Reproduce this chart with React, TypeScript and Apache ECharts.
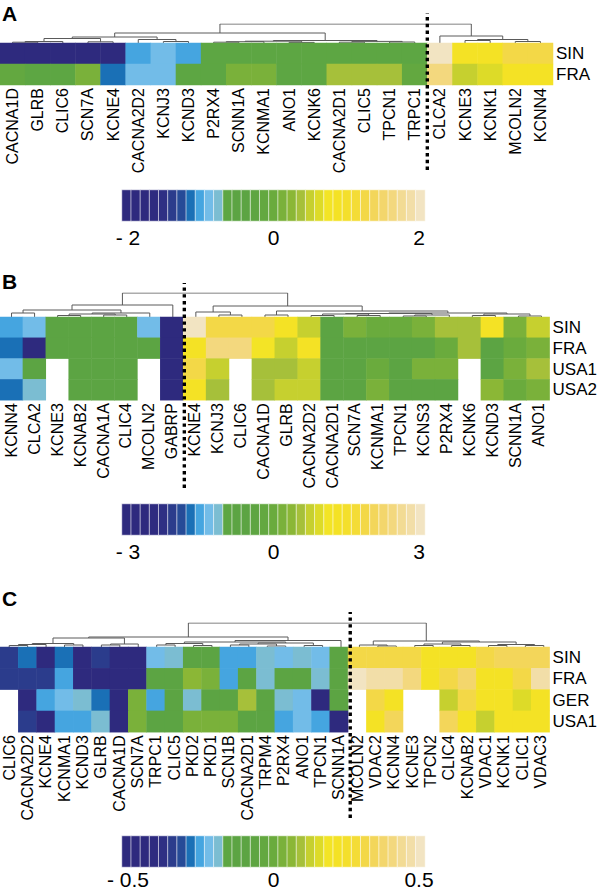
import React, { useEffect, useRef } from 'react';
import * as echarts from 'echarts';

// ---------- Panel A ----------
const genesA = ['CACNA1D', 'GLRB', 'CLIC6', 'SCN7A', 'KCNE4', 'CACNA2D2', 'KCNJ3', 'KCND3', 'P2RX4', 'SCNN1A', 'KCNMA1', 'ANO1', 'KCNK6', 'CACNA2D1', 'CLIC5', 'TPCN1', 'TRPC1', 'CLCA2', 'KCNE3', 'KCNK1', 'MCOLN2', 'KCNN4'];
const rowsA = ['SIN', 'FRA'];
const sinA = [-1.9, -1.9, -1.9, -1.9, -1.9, -0.97, -0.85, -0.97, -0.6, -0.6, -0.6, -0.6, -0.55, -0.6, -0.6, -0.6, -0.6, 1.95, 0.85, 0.85, 1.2, 1.2];
const fraA = [-0.1, -0.6, -0.6, 0.1, -1.1, -0.85, -0.85, -0.6, -0.6, 0.1, 0.1, -0.6, -0.6, 0.36, 0.36, 0.36, -0.1, 1.6, 0.48, 0.6, 0.85, 0.85];
const dendroA = [[0, 1, 0.8], [22, 2, 1.5], [3, 4, 1.2], [23, 24, 4.5], [6, 7, 1.5], [5, 26, 3.5], [25, 27, 6], [8, 9, 0.8], [29, 10, 1.3], [11, 12, 0.6], [30, 31, 1.8], [13, 14, 0.8], [15, 16, 1.0], [33, 34, 1.6], [32, 35, 2.5], [28, 36, 10], [18, 19, 2.5], [20, 21, 1.5], [38, 39, 3.5], [17, 40, 7], [37, 41, 19]];
const splitA = 17;
const maxA = 2;

// ---------- Panel B ----------
const genesB = ['KCNN4', 'CLCA2', 'KCNE3', 'KCNAB2', 'CACNA1A', 'CLIC4', 'MCOLN2', 'GABRP', 'KCNE4', 'KCNJ3', 'CLIC6', 'CACNA1D', 'GLRB', 'CACNA2D2', 'CACNA2D1', 'SCN7A', 'KCNMA1', 'TPCN1', 'KCNS3', 'P2RX4', 'KCNK6', 'KCND3', 'SCNN1A', 'ANO1'];
const rowsB = ['SIN', 'FRA', 'USA1', 'USA2'];
const sinB = [-1.45, -1.27, -0.73, -0.73, -0.55, -0.73, -1.27, -2.9, 2.9, 1.82, 1.82, 1.82, 1.27, 0.73, -0.73, 0.18, 0, 0, 0.18, 0.55, 0.55, 1.27, 0.18, 0.73];
const fraB = [-1.64, -2.9, -0.73, -0.73, -0.73, -0.73, -0.73, -2.9, 1.27, 2.36, 2.36, 1.09, 0.73, 1.27, -0.73, -0.73, -0.8, -0.8, -0.73, 0, 0.55, -0.73, 0, 0.18];
const usa1B = [-1.27, -0.73, null, -0.73, -0.73, -0.55, null, -2.9, 1.82, 0.73, null, 0.55, 0.55, 0.73, -0.73, -0.73, 0, -0.73, 0.18, 0.18, null, -0.73, 0.18, 0.55];
const usa2B = [-1.64, -1.09, null, -0.73, -0.73, -0.73, null, -2.9, 1.27, 0.55, null, 0.55, 0.73, 0.73, -0.73, -0.55, 0.18, -0.73, -0.73, -0.73, null, 0.36, 0, 0.18];
const dendroB = [[0, 1, 4], [2, 3, 1.5], [4, 5, 2], [25, 26, 3], [27, 6, 4], [24, 28, 7], [29, 7, 12], [9, 10, 2], [8, 31, 5], [11, 12, 2], [13, 14, 1.5], [15, 16, 1.5], [34, 35, 3], [17, 18, 1], [37, 19, 2], [36, 38, 3.5], [20, 21, 1.5], [22, 23, 1], [40, 41, 3], [39, 42, 4], [33, 43, 6], [32, 44, 11], [30, 45, 24]];
const splitB = 8;
const maxB = 3;

// ---------- Panel C ----------
const genesC = ['CLIC6', 'CACNA2D2', 'KCNE4', 'KCNMA1', 'KCND3', 'GLRB', 'CACNA1D', 'SCN7A', 'TRPC1', 'CLIC5', 'PKD2', 'PKD1', 'SCN1B', 'CACNA2D1', 'TRPM4', 'P2RX4', 'ANO1', 'TPCN1', 'SCNN1A', 'MCOLN2', 'VDAC2', 'KCNN4', 'KCNE3', 'TPCN2', 'CLIC4', 'KCNAB2', 'VDAC1', 'KCNK1', 'CLIC1', 'VDAC3'];
const rowsC = ['SIN', 'FRA', 'GER', 'USA1'];
const sinC = [-0.333, -0.273, -0.45, -0.273, -0.45, -0.333, -0.45, -0.45, -0.212, -0.182, -0.121, -0.121, -0.242, -0.242, -0.182, -0.212, -0.182, -0.212, -0.121, 0.303, 0.303, 0.303, 0.303, 0.212, 0.212, 0.212, 0.303, 0.333, 0.333, 0.333];
const fraC = [-0.333, -0.333, -0.333, -0.242, -0.45, -0.45, -0.45, -0.45, -0.121, -0.121, 0.061, 0.03, -0.242, -0.121, -0.182, -0.121, -0.121, -0.182, -0.121, 0.485, 0.455, 0.455, 0.394, 0.212, 0.303, 0.364, 0.212, 0.212, 0.303, 0.455];
const gerC = [null, -0.45, -0.242, -0.212, -0.182, -0.273, -0.45, 0.03, -0.242, -0.121, -0.182, -0.121, -0.121, 0.091, -0.121, -0.182, -0.212, -0.45, -0.121, null, 0.303, 0.212, null, null, 0.121, 0.303, 0.212, 0.212, 0.152, 0.212];
const usa1C = [null, -0.333, -0.45, -0.242, -0.242, -0.182, -0.45, 0.03, -0.121, -0.121, 0.03, 0.03, 0.03, -0.121, -0.121, -0.242, -0.212, -0.242, -0.45, null, 0.212, 0.333, null, null, 0.333, 0.212, 0.121, 0.212, 0.212, 0.212];
const dendroC = [[0, 1, 1.5], [30, 2, 2.5], [3, 4, 2], [31, 32, 3.5], [5, 6, 2], [34, 7, 3], [33, 35, 9], [8, 9, 2], [10, 11, 1.5], [37, 38, 3.5], [12, 13, 2], [14, 15, 1], [40, 41, 3], [16, 17, 1.5], [42, 43, 4], [39, 44, 5], [45, 18, 6.5], [36, 46, 10], [20, 21, 1], [19, 48, 2], [22, 23, 1.5], [24, 25, 1.5], [50, 51, 3], [26, 27, 1.5], [28, 29, 1.5], [53, 54, 2.5], [52, 55, 5], [49, 56, 6], [47, 57, 24]];
const splitC = 19;
const maxC = 0.5;

// colour key (33 bins, low -> high)
const palette = ['#2e2a7e', '#2e2a7e', '#2e2a7e', '#2e2b80', '#2e2f84', '#2b3c8c', '#264b97', '#1a70b6', '#45a5e0', '#72bce8', '#7bbdd2', '#5da643', '#5ca443', '#5ca443', '#5ea542', '#63a840', '#6aab3d', '#7ab13a', '#8bb736', '#a6c03a', '#c6d02f', '#dddb28', '#f3e426', '#f4e225', '#f4df2c', '#f4dc36', '#f3d847', '#f3d65a', '#f3d66c', '#f3d87e', '#f2db94', '#f2dea8', '#f2e4c2'];

const FONT = "'Liberation Sans', Arial, Helvetica, sans-serif";

function dendroSegments(n: number, merges: number[][]) {
  const xs: number[] = [];
  const hs: number[] = [];
  for (let i = 0; i < n; i++) { xs.push(i + 0.5); hs.push(0); }
  const segs: any[] = [];
  merges.forEach(([a, b, h]) => {
    segs.push({ coords: [[xs[a], hs[a]], [xs[a], h], [xs[b], h], [xs[b], hs[b]]] });
    xs.push((xs[a] + xs[b]) / 2);
    hs.push(h);
  });
  return segs;
}

function buildOption() {
  const panels = [
    { letter: 'A', letterTop: 3, genes: genesA, rows: rowsA, values: [sinA, fraA], dendro: dendroA, split: splitA, max: maxA, top: 43, rowH: 21, dendroH: 19, dotTop: 13, dotBottom: 170, cbTop: 190 },
    { letter: 'B', letterTop: 271, genes: genesB, rows: rowsB, values: [sinB, fraB, usa1B, usa2B], dendro: dendroB, split: splitB, max: maxB, top: 317, rowH: 20.8, dendroH: 24, dotTop: 283, dotBottom: 488, cbTop: 504 },
    { letter: 'C', letterTop: 588, genes: genesC, rows: rowsC, values: [sinC, fraC, gerC, usa1C], dendro: dendroC, split: splitC, max: maxC, top: 647, rowH: 21.3, dendroH: 24, dotTop: 612, dotBottom: 818, cbTop: 836 },
  ];
  const grid: any[] = [], xAxis: any[] = [], yAxis: any[] = [], series: any[] = [], visualMap: any[] = [], title: any[] = [];
  const W = 553;
  panels.forEach((p) => {
    const n = p.genes.length;
    const g0 = grid.length;
    // dendrogram
    grid.push({ left: 0, top: p.top - p.dendroH, width: W, height: p.dendroH });
    xAxis.push({ gridIndex: g0, type: 'value', min: 0, max: n, show: false });
    yAxis.push({ gridIndex: g0, type: 'value', min: 0, max: p.dendroH, show: false });
    series.push({ type: 'lines', coordinateSystem: 'cartesian2d', xAxisIndex: g0, yAxisIndex: g0, polyline: true, silent: true, data: dendroSegments(n, p.dendro), lineStyle: { color: '#5a5a5a', width: 1, opacity: 1 } });
    // heatmap
    const g1 = g0 + 1;
    grid.push({ left: 0, top: p.top, width: W, height: p.rowH * p.rows.length });
    xAxis.push({ gridIndex: g1, type: 'category', data: p.genes, axisLine: { show: false }, axisTick: { show: false }, splitLine: { show: false }, axisLabel: { interval: 0, rotate: 90, margin: 3, fontSize: 16, fontFamily: FONT, color: '#000' } });
    yAxis.push({ gridIndex: g1, type: 'category', data: p.rows, inverse: true, position: 'right', axisLine: { show: false }, axisTick: { show: false }, splitLine: { show: false }, axisLabel: { interval: 0, margin: 3, fontSize: 17, fontFamily: FONT, color: '#000' } });
    const hm: any[] = [];
    p.values.forEach((row, r) => row.forEach((v, c) => { if (v !== null) hm.push([c, r, v]); }));
    const sHeat = series.length;
    series.push({ type: 'heatmap', xAxisIndex: g1, yAxisIndex: g1, data: hm, silent: true });
    // dotted divider
    const g2 = g0 + 2;
    grid.push({ left: 0, top: p.dotTop, width: W, height: p.dotBottom - p.dotTop });
    xAxis.push({ gridIndex: g2, type: 'value', min: 0, max: n, show: false });
    yAxis.push({ gridIndex: g2, type: 'value', min: 0, max: 1, show: false });
    series.push({ type: 'line', xAxisIndex: g2, yAxisIndex: g2, data: [[p.split, 0], [p.split, 1]], symbol: 'none', z: 20, silent: true, lineStyle: { color: '#000', width: 3.4, type: [3.4, 3.4], cap: 'butt' } });
    // colour bar
    const g3 = g0 + 3;
    grid.push({ left: 122, top: p.cbTop, width: 303, height: 31 });
    xAxis.push({ gridIndex: g3, type: 'category', data: palette.map((_, i) => String(i)), show: false });
    yAxis.push({ gridIndex: g3, type: 'category', data: [''], show: false });
    const step = (2 * p.max) / palette.length;
    const sBar = series.length;
    series.push({ type: 'heatmap', xAxisIndex: g3, yAxisIndex: g3, silent: true, data: palette.map((_, i) => [i, 0, -p.max + (i + 0.5) * step]), itemStyle: { borderColor: '#ffffff', borderWidth: 0.6 } });
    // colour bar tick labels
    const g4 = g0 + 4;
    grid.push({ left: 128, top: p.cbTop, width: 291, height: 31 });
    xAxis.push({ gridIndex: g4, type: 'value', min: -p.max, max: p.max, interval: p.max, axisLine: { show: false }, axisTick: { show: false }, splitLine: { show: false }, axisLabel: { margin: 6, fontSize: 21, fontFamily: FONT, color: '#000', formatter: (v: number) => (v < 0 ? '- ' + Math.abs(v) : String(v)) } });
    yAxis.push({ gridIndex: g4, type: 'value', min: 0, max: 1, show: false });
    series.push({ type: 'scatter', xAxisIndex: g4, yAxisIndex: g4, data: [] });
    visualMap.push({
      type: 'piecewise', show: false, dimension: 2, seriesIndex: [sHeat, sBar],
      pieces: palette.map((c, i) => {
        const lo = -p.max + i * step;
        const hi = lo + step;
        if (i === 0) return { lt: hi, color: c };
        if (i === palette.length - 1) return { gte: lo, color: c };
        return { gte: lo, lt: hi, color: c };
      }),
    });
    title.push({ text: p.letter, left: 2, top: p.letterTop, padding: 0, textStyle: { fontSize: 21, fontWeight: 'bold', fontFamily: FONT, color: '#000' } });
  });
  return { animation: false, backgroundColor: '#ffffff', title, grid, xAxis, yAxis, visualMap, series };
}

export default function App() {
  const ref = useRef<HTMLDivElement>(null);
  useEffect(() => {
    if (!ref.current) return;
    const chart = echarts.init(ref.current, undefined, { renderer: 'svg' });
    chart.setOption(buildOption() as any);
    return () => chart.dispose();
  }, []);
  return <div ref={ref} style={{ position: 'absolute', left: 0, top: 0, width: 600, height: 890, background: '#fff' }} />;
}
